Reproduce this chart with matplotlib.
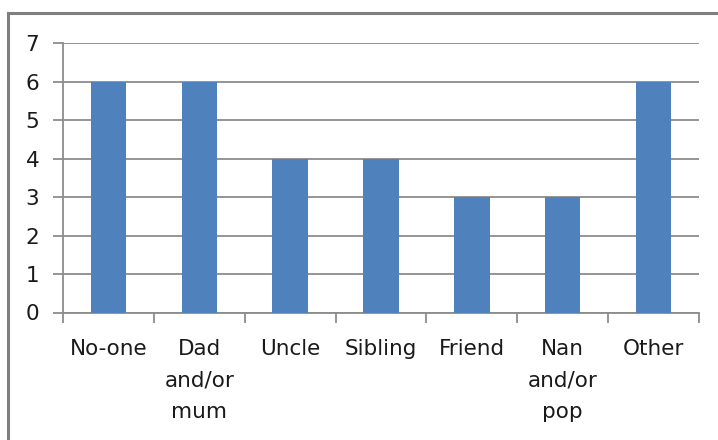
import matplotlib.pyplot as plt
from matplotlib.lines import Line2D
import numpy as np

categories = ['No-one', 'Dad\nand/or\nmum', 'Uncle', 'Sibling', 'Friend', 'Nan\nand/or\npop', 'Other']
values = [6, 6, 4, 4, 3, 3, 6]

W, H = 718, 440
fig = plt.figure(figsize=(W / 100, H / 100), dpi=100)

# plot area in pixels
left, right, top, bottom = 63, 699, 43, 312.5
ax = fig.add_axes([left / W, 1 - bottom / H, (right - left) / W, (bottom - top) / H])

x = np.arange(len(categories))
ax.bar(x, values, width=0.39, color='#4F81BD', zorder=3)

ax.set_xlim(-0.5, len(categories) - 0.5)
ax.set_ylim(0, 7)
ax.set_yticks(range(0, 8))
ax.yaxis.grid(True, color='#8c8c8c', linewidth=1.3)
ax.set_axisbelow(True)

ax.set_xticks(x)
ax.set_xticklabels(categories, fontsize=15.5, color='#1a1a1a', linespacing=1.72)
ax.set_xticks(np.arange(-0.5, len(categories)), minor=True)
ax.tick_params(axis='x', which='major', length=0, pad=19)
ax.tick_params(axis='x', which='minor', length=7, width=1.3, color='#8c8c8c')
ax.tick_params(axis='y', length=7, width=1.3, color='#8c8c8c', labelsize=15.5,
               labelcolor='#1a1a1a', pad=10)

for s in ['top', 'right']:
    ax.spines[s].set_visible(False)
for s in ['left', 'bottom']:
    ax.spines[s].set_color('#8c8c8c')
    ax.spines[s].set_linewidth(1.3)

# outer chart frame
fc = '#7f7f7f'
fig.add_artist(Line2D([8 / W, 8 / W], [0, 1 - 13 / H], color=fc, linewidth=2.2,
                      transform=fig.transFigure))
fig.add_artist(Line2D([8 / W, 1], [1 - 13 / H, 1 - 13 / H], color=fc, linewidth=2.2,
                      transform=fig.transFigure))

fig.savefig('out.png', dpi=100)
